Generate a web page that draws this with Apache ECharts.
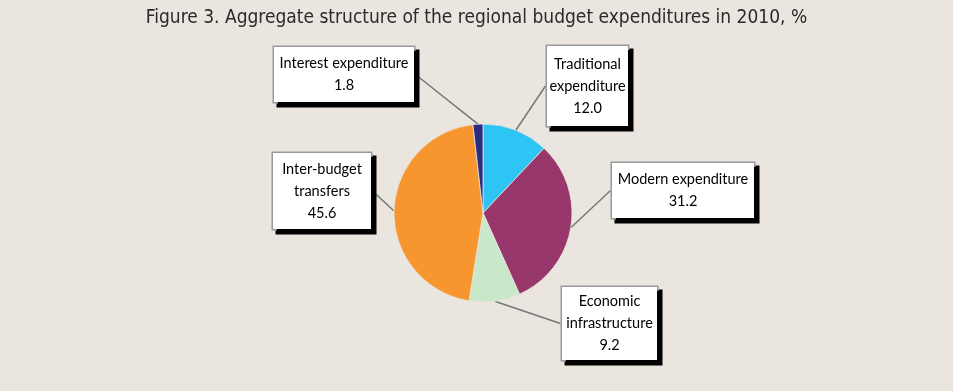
<!DOCTYPE html>
<html>
<head>
<meta charset="utf-8">
<style>html,body{margin:0;padding:0;background:#eae6df;}#c{width:953px;height:391px;}</style>
<script src="https://cdn.jsdelivr.net/npm/echarts@6/dist/echarts.min.js"></script>
</head>
<body>
<div id="c"></div>
<script>
var categories = ["Traditional\nexpenditure", "Modern expenditure", "Economic\ninfrastructure", "Inter-budget\ntransfers", "Interest expenditure"];
var values = [12.0, 31.2, 9.2, 45.6, 1.8];
var colors = ["#2ec4f4", "#97376c", "#c9e7c9", "#f7962f", "#2b2d80"];
// label box layout: centre x, centre y, content width, vertical padding
var labelBoxes = [
  [587.5, 86, 77, 7],
  [683, 190.5, 138, 5.5],
  [609.5, 323.5, 91, 3.5],
  [322, 191, 94, 5],
  [344, 74.5, 136, 5.5]
];
var chart = echarts.init(document.getElementById('c'));
var data = categories.map(function (c, i) {
  return {
    name: c, value: values[i],
    itemStyle: {color: colors[i]},
    label: {width: labelBoxes[i][2], padding: [labelBoxes[i][3], 2]}
  };
});
chart.setOption({
  backgroundColor: '#eae6df',
  animation: false,
  title: {
    text: 'Figure 3. Aggregate structure of the regional budget expenditures in 2010, %',
    left: 'center', top: 4,
    textStyle: {fontFamily: '"DejaVu Sans Condensed", sans-serif', fontWeight: 'normal', fontSize: 19, color: '#2a2a2a'}
  },
  series: [{
    type: 'pie',
    center: [483, 213],
    radius: 89,
    startAngle: 90,
    clockwise: true,
    data: data,
    itemStyle: {borderColor: '#eae6df', borderWidth: 0.8},
    label: {
      show: true,
      formatter: function (p) { return p.name + '\n' + p.value.toFixed(1); },
      fontFamily: 'Lato, "Open Sans", sans-serif',
      fontSize: 14.5,
      lineHeight: 22,
      overflow: 'none',
      color: '#000',
      align: 'center',
      backgroundColor: '#fff',
      borderColor: '#999',
      borderWidth: 1.5,
      shadowColor: '#000',
      shadowOffsetX: 4,
      shadowOffsetY: 4,
      shadowBlur: 0
    },
    labelLine: {show: true, length: 0, length2: 0, lineStyle: {color: '#777', width: 1.5}},
    labelLayout: function (p) {
      var b = labelBoxes[p.dataIndex];
      return {x: b[0], y: b[1], align: 'center', verticalAlign: 'middle'};
    }
  }]
});
</script>
</body>
</html>
